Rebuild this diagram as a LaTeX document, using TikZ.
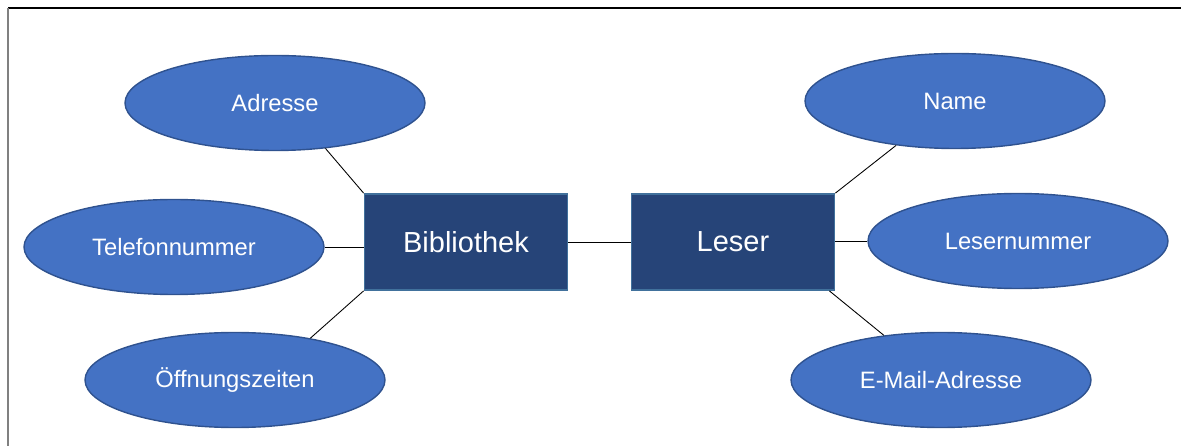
\documentclass[tikz,border=0pt]{standalone}
\usepackage{fontspec}
\setmainfont{Liberation Sans}
\usetikzlibrary{shapes.geometric}
\definecolor{attrfill}{HTML}{4472C4}
\definecolor{attrline}{HTML}{2F528F}
\definecolor{entfill}{HTML}{264478}
\definecolor{entline}{HTML}{41719C}
\tikzset{
    attr/.style={ellipse, draw=attrline, line width=0.8pt, fill=attrfill, text=white,
        minimum width=6cm, minimum height=1.9cm, inner sep=0pt, font=\fontsize{13.5}{16}\selectfont},
    entity/.style={rectangle, draw=entline, line width=1pt, fill=entfill, text=white,
        minimum width=4.06cm, minimum height=1.92cm, font=\fontsize{16.5}{20}\selectfont},
    link/.style={draw=black, line width=0.5pt}
}

\begin{document}
\begin{tikzpicture}
    \useasboundingbox (0,0) rectangle (23.62,8.92);
    \draw [line width=0.9pt] (0.16,8.76) -- (23.62,8.76);
    \draw [line width=0.9pt, gray] (0.16,8.76) -- (0.16,0);
    \node[entity] (bib) at (9.32, 4.08) {Bibliothek};
    \node[entity] (les) at (14.66, 4.08) {Leser};
    \node[attr] (adr) at (5.5, 6.86) {Adresse};
    \node[attr] (tel) at (3.48, 3.98) {Telefonnummer};
    \node[attr] (oef) at (4.7, 1.32) {Öffnungszeiten};
    \node[attr] (nam) at (19.1, 6.9) {Name};
    \node[attr] (lnr) at (20.36, 4.1) {Lesernummer};
    \node[attr] (mail) at (18.82, 1.32) {E-Mail-Adresse};
    \draw [link] (bib.north west) -- (adr.-42);
    \draw [link] (bib.west |- tel.east) -- (tel.east);
    \draw [link] (bib.south west) -- (oef.29);
    \draw [link] (bib) -- (les);
    \draw [link] (les.north east) -- (nam.217);
    \draw [link] (les.east |- lnr.west) -- (lnr.west);
    \draw [link] ([xshift=-0.12cm]les.south east) -- (mail.142);
\end{tikzpicture}
\end{document}
